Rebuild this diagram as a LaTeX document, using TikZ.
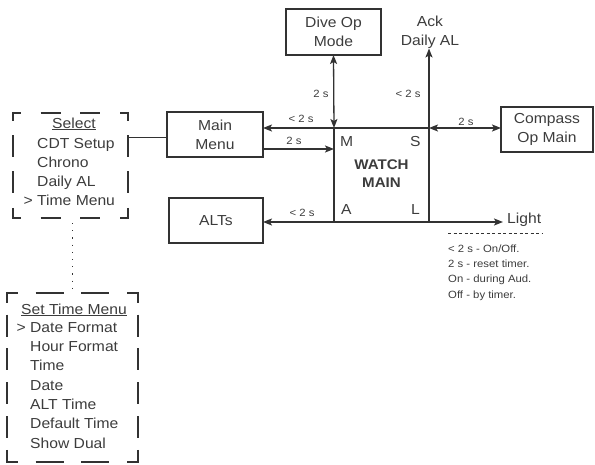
\documentclass[tikz,border=0pt]{standalone}
\usepackage{fontspec}
\setmainfont{Liberation Sans}[FakeStretch=1.08]
\usetikzlibrary{arrows.meta}
\definecolor{ink}{RGB}{50,50,50}
\definecolor{txt}{RGB}{60,60,60}
\tikzset{
  box/.style={draw=ink, line width=2.3pt, align=center, font=\fontsize{14.5}{19}\selectfont, text=txt, inner sep=0pt, outer sep=0pt},
  conn/.style={draw=ink, line width=1.3pt, -{Stealth[length=9pt,width=7pt,inset=2pt]}},
  dconn/.style={draw=ink, line width=1.3pt, {Stealth[length=9pt,width=7pt,inset=2pt]}-{Stealth[length=9pt,width=7pt,inset=2pt]}},
  lbl/.style={font=\fontsize{10.5}{12}\selectfont, text=txt, inner sep=0pt},
  mtxt/.style={font=\fontsize{14.5}{19}\selectfont, text=txt, inner sep=0pt, anchor=base west},
  ntxt/.style={font=\fontsize{10.5}{12}\selectfont, text=txt, inner sep=0pt, anchor=base west},
  frame/.style={draw=none, inner sep=0pt, outer sep=0pt},
  dside/.style={draw=ink, line width=2.4pt, line cap=butt},
}
\begin{document}
\begin{tikzpicture}[x=1pt,y=-1pt]
\useasboundingbox (0,0) rectangle (595,464);
% boxes
\node[box, minimum width=95pt, minimum height=46pt] (dive) at (333.5,32) {Dive Op\\Mode};
\node[box, minimum width=95pt, minimum height=94pt] (watch) at (381.5,175) {};
\node[box, minimum width=96pt, minimum height=45pt] (mainmenu) at (215,134.5) {Main\\Menu};
\node[box, minimum width=94pt, minimum height=45pt] (alts) at (216,220.5) {ALTs};
\node[box, minimum width=92pt, minimum height=45pt] (compass) at (547,129.5) {Compass\\Op Main};
\node[align=center, font=\fontsize{14.5}{19}\selectfont, text=txt, inner sep=0pt] (ack) at (430,32) {Ack\\Daily AL};
\node[font=\fontsize{14.5}{19}\selectfont, text=txt, inner sep=0pt, anchor=west] (light) at (507,220) {Light};
% watch main text
\node[font=\bfseries\fontsize{14}{18}\selectfont, text=txt, align=center, inner sep=0pt] (wtxt) at (381.5,174) {WATCH\\MAIN};
\node[mtxt] (wm) at (340,146) {M};
\node[mtxt] (ws) at (410,146) {S};
\node[mtxt] (wa) at (341,214) {A};
\node[mtxt] (wl) at (411,214) {L};
% connectors
\draw[dconn] (dive.south) -- (watch.north west);
\draw[conn] (watch.north west) -- (watch.north west -| mainmenu.east);
\draw[conn] ([yshift=-14.5pt]mainmenu.east) -- ([yshift=-14.5pt]mainmenu.east -| watch.west);
\draw[conn] (watch.north east) -- (watch.north east |- ack.south);
\draw[dconn] (watch.north east) -- (watch.north east -| compass.west);
\draw[conn] (watch.south west) -- (watch.south west -| alts.east);
\draw[conn] (watch.south east) -- ([xshift=-4pt]watch.south east -| light.west);
% labels
\node[lbl] (l1) at (321,94) {2 s};
\node[lbl] (l2) at (408,94) {< 2 s};
\node[lbl] (l3) at (301,119) {< 2 s};
\node[lbl] (l4) at (294,141) {2 s};
\node[lbl] (l5) at (302,213) {< 2 s};
\node[lbl] (l6) at (466,122) {2 s};
% note
\coordinate (nl) at (448,233);
\coordinate (nr) at (543,233);
\draw[draw=ink, line width=0.7pt, dash pattern=on 3pt off 2.5pt] (nl) -- (nr);
\node[ntxt] (n1) at (448,252) {< 2 s - On/Off.};
\node[ntxt] (n2) at (448,267) {2 s - reset timer.};
\node[ntxt] (n3) at (448,282) {On - during Aud.};
\node[ntxt] (n4) at (448,298) {Off - by timer.};
% select box
\node[frame, minimum width=115pt, minimum height=105pt] (select) at (70.5,165.5) {};
\draw[dside, dash pattern=on 20pt off 19.67pt, dash phase=12pt] (select.north west) -- (select.north east);
\draw[dside, dash pattern=on 20pt off 19.67pt, dash phase=12pt] (select.south west) -- (select.south east);
\draw[dside, dash pattern=on 22pt off 14.33pt, dash phase=13pt] ([yshift=1.2pt]select.north west) -- ([yshift=-1.2pt]select.south west);
\draw[dside, dash pattern=on 22pt off 14.33pt, dash phase=13pt] ([yshift=1.2pt]select.north east) -- ([yshift=-1.2pt]select.south east);
\node[mtxt, anchor=base] (s0) at (74,128) {\underline{Select}};
\node[mtxt] (s1) at (37,148) {CDT Setup};
\node[mtxt] (s2) at (37,167) {Chrono};
\node[mtxt] (s3) at (37,186) {Daily AL};
\node[mtxt] (s4) at (37,205) {\llap{> }Time Menu};
% set time box
\node[frame, minimum width=131pt, minimum height=169pt] (settime) at (72.5,377.5) {};
\draw[dside, dash pattern=on 28pt off 17.67pt, dash phase=17pt] (settime.north west) -- (settime.north east);
\draw[dside, dash pattern=on 28pt off 17.67pt, dash phase=17pt] (settime.south west) -- (settime.south east);
\draw[dside, dash pattern=on 22pt off 11.8pt, dash phase=11pt] ([yshift=1.2pt]settime.north west) -- ([yshift=-1.2pt]settime.south west);
\draw[dside, dash pattern=on 22pt off 11.8pt, dash phase=11pt] ([yshift=1.2pt]settime.north east) -- ([yshift=-1.2pt]settime.south east);
\node[mtxt] (t0) at (21,314) {\underline{Set Time Menu}};
\node[mtxt] (t1) at (30,332) {\llap{> }Date Format};
\node[mtxt] (t2) at (30,351) {Hour Format};
\node[mtxt] (t3) at (30,370) {Time};
\node[mtxt] (t4) at (30,390) {Date};
\node[mtxt] (t5) at (30,409) {ALT Time};
\node[mtxt] (t6) at (30,428) {Default Time};
\node[mtxt] (t7) at (30,448) {Show Dual};
% links
\draw[draw=ink, line width=1pt] ([yshift=-2.5pt]mainmenu.west -| select.east) -- ([yshift=-2.5pt]mainmenu.west);
\draw[draw=ink, line width=1.2pt, dash pattern=on 1.2pt off 6pt] ([yshift=-5pt]settime.north |- select.south) -- ([yshift=5pt]settime.north);
\end{tikzpicture}
\end{document}
